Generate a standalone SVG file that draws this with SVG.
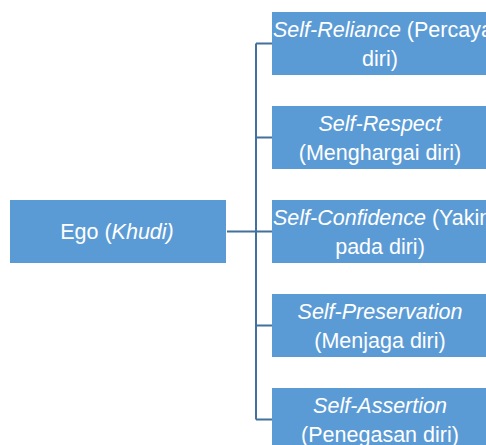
<svg xmlns="http://www.w3.org/2000/svg" width="486" height="445" viewBox="0 0 486 445">
<style>
.box{fill:#5B9BD5;}
.t{font-family:"Liberation Sans",Arial,sans-serif;font-size:21.5px;fill:#FFFFFF;text-anchor:middle;}
.s{text-anchor:start;}
.i{font-style:italic;}
.ln{stroke:#41719C;stroke-width:2;fill:none;}
</style>
<rect width="486" height="445" fill="#FFFFFF"/>
<g id="connectors">
<path class="ln" d="M227 231.5 H256 M256 43.5 V419.5 M256 43.5 H272 M256 137.5 H272 M256 231.5 H272 M256 325.5 H272 M256 419.5 H272"/>
</g>
<g id="ego">
<rect class="box" x="10" y="200" width="216" height="63"/>
<text class="t" x="117" y="239">Ego (<tspan class="i">Khudi)</tspan></text>
</g>
<g id="self-reliance">
<rect class="box" x="272" y="12" width="216" height="63"/>
<text class="t s" x="273" y="37"><tspan class="i">Self-Reliance</tspan> (Percaya</text>
<text class="t" x="380" y="66">diri)</text>
</g>
<g id="self-respect">
<rect class="box" x="272" y="106" width="216" height="63"/>
<text class="t i" x="380" y="131">Self-Respect</text>
<text class="t" x="380" y="160">(Menghargai diri)</text>
</g>
<g id="self-confidence">
<rect class="box" x="272" y="200" width="216" height="63"/>
<text class="t s" x="273" y="225"><tspan class="i">Self-Confidence</tspan> (Yakin</text>
<text class="t" x="380" y="254">pada diri)</text>
</g>
<g id="self-preservation">
<rect class="box" x="272" y="294" width="216" height="63"/>
<text class="t i" x="380" y="319">Self-Preservation</text>
<text class="t" x="380" y="348">(Menjaga diri)</text>
</g>
<g id="self-assertion">
<rect class="box" x="272" y="388" width="216" height="63"/>
<text class="t i" x="380" y="413">Self-Assertion</text>
<text class="t" x="380" y="442">(Penegasan diri)</text>
</g>
</svg>
